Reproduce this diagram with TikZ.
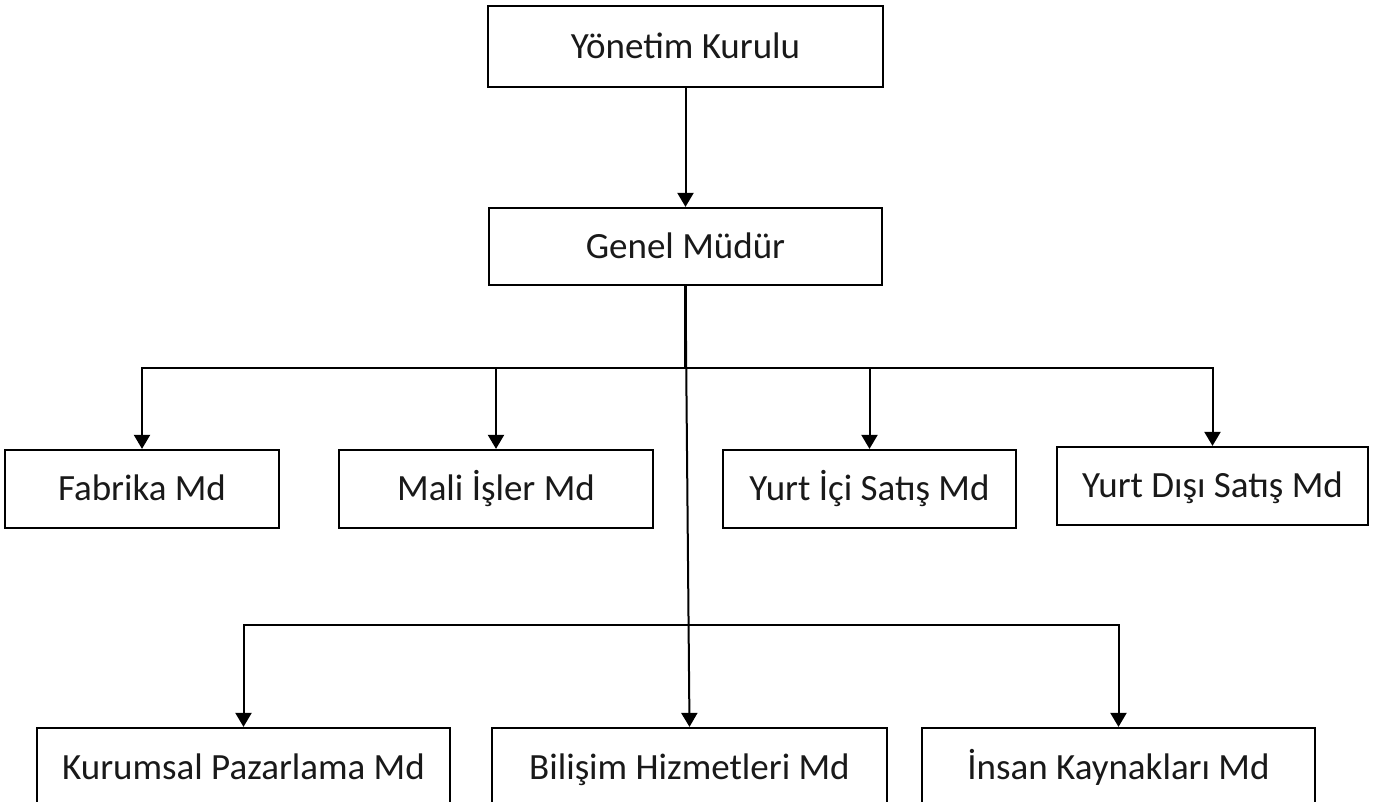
\documentclass[tikz,border=0pt]{standalone}
\usepackage{fontspec}
\setmainfont{Carlito}
\usetikzlibrary{arrows.meta}
\tikzset{
  bx/.style={draw=black, line width=1.1pt, fill=white, inner sep=0pt,
    text height=11.9pt, text depth=0pt,
    font=\fontsize{18.5}{22}\selectfont, text=black!90},
  conn/.style={line width=1pt, draw=black},
  arr/.style={conn, -{Triangle[length=7pt,width=8pt]}}
}
\begin{document}
\begin{tikzpicture}[x=0.5pt,y=-0.5pt]
\useasboundingbox (0,0) rectangle (1378,802);
\fill[white] (0,0) rectangle (1378,802);
\clip (0,0) rectangle (1378,802);
% nodes
\node[bx, minimum width=197.5pt, minimum height=40.5pt] (yk) at (685.5,46.5) {Yönetim Kurulu};
\node[bx, minimum width=196.5pt, minimum height=38.5pt] (gm) at (685.5,246.5) {Genel Müdür};
\node[bx, minimum width=137pt, minimum height=39pt] (fab) at (142,489) {Fabrika Md};
\node[bx, minimum width=157pt, minimum height=39pt] (mali) at (496,489) {Mali İşler Md};
\node[bx, minimum width=146.5pt, minimum height=39pt] (yic) at (869.5,489) {Yurt İçi Satış Md};
\node[bx, minimum width=155.5pt, minimum height=39pt] (yds) at (1212.5,486) {Yurt Dışı Satış Md};
\node[bx, minimum width=206.5pt, minimum height=40pt] (kur) at (243.5,768) {Kurumsal Pazarlama Md};
\node[bx, minimum width=197.5pt, minimum height=40pt] (bil) at (689.5,768) {Bilişim Hizmetleri Md};
\node[bx, minimum width=196.5pt, minimum height=40pt] (ins) at (1118.5,768) {İnsan Kaynakları Md};
% junctions
\coordinate (j1) at (685.5,368);
\coordinate (j2) at (688,625);
% connectors
\draw[arr] (yk.south) -- (gm.north);
\draw[conn, line width=1.4pt] (gm.south) -- (j1);
\draw[arr] (j1) -| (fab.north);
\draw[arr] (j1) -| (mali.north);
\draw[arr] (j1) -| (yic.north);
\draw[arr] (j1) -| (yds.north);
\draw[arr] (gm.south) -- (bil.north);
\draw[arr] (j2) -| (kur.north);
\draw[arr] (j2) -| (ins.north);
\end{tikzpicture}
\end{document}
